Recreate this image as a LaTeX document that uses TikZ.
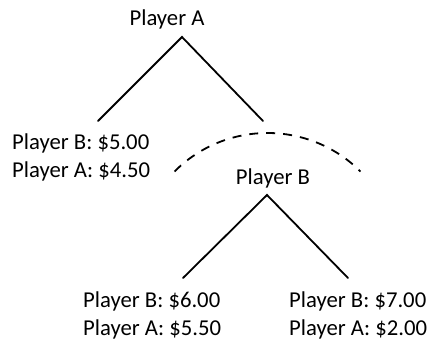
\documentclass[tikz,border=0pt]{standalone}
\usepackage{fontspec}
\setmainfont{Carlito}
\begin{document}
\begin{tikzpicture}[x=1pt,y=-1pt,
  lbl/.style={inner sep=0pt,font=\fontsize{22.7}{28}\selectfont},
  branch/.style={line width=1.8pt,line cap=round},
  infoset/.style={line width=1.8pt,dash pattern=on 9pt off 8pt}]
\useasboundingbox (0,0) rectangle (429,339);
% players
\node[lbl,anchor=base] (pA) at (167,26) {Player A};
\node[lbl,anchor=base] (pB) at (273,185) {Player B};
% payoffs
\node[lbl,anchor=base west] (l1) at (12,150) {Player B: \$5.00};
\node[lbl,anchor=base west] (l2) at (12,178) {Player A: \$4.50};
\node[lbl,anchor=base west] (m1) at (83,308) {Player B: \$6.00};
\node[lbl,anchor=base west] (m2) at (83,336) {Player A: \$5.50};
\node[lbl,anchor=base west] (r1) at (289,308) {Player B: \$7.00};
\node[lbl,anchor=base west] (r2) at (289,336) {Player A: \$2.00};
% branch points
\coordinate (aTop) at (182,37);
\coordinate (aL) at (98,121);
\coordinate (aR) at (263,121);
\coordinate (bTop) at (267,195);
\coordinate (bL) at (183,278);
\coordinate (bR) at (348,278);
\draw[branch] (aL) -- (aTop) -- (aR);
\draw[branch] (bL) -- (bTop) -- (bR);
% information set arc
\coordinate (arcS) at ({267.5+131.5*cos(135)},{264.5-131.5*sin(135)});
\draw[infoset] (arcS) arc[start angle=-135,end angle=-45,radius=131.5];
\end{tikzpicture}
\end{document}
